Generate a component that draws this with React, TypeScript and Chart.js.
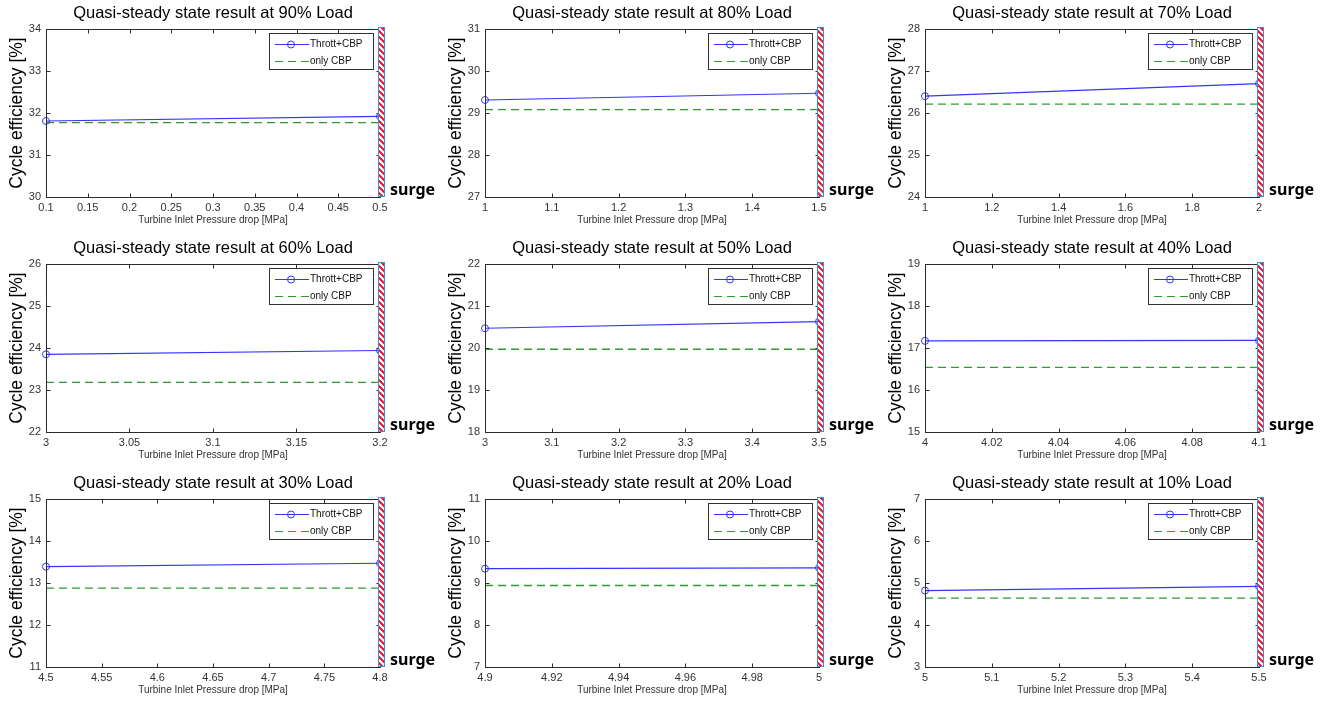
import React, { useEffect, useRef } from "react";
import { Chart, registerables } from "chart.js";

Chart.register(...registerables);

// ---------------- data ----------------
const loads = [90, 80, 70, 60, 50, 40, 30, 20, 10];
const xStart = [0.1, 1, 1, 3, 3, 4, 4.5, 4.9, 5];
const xEnd = [0.5, 1.5, 2, 3.2, 3.5, 4.1, 4.8, 5, 5.5];
const throttStart = [31.81, 29.31, 26.4, 23.85, 20.47, 17.17, 13.39, 9.34, 4.82];
const throttEnd = [31.92, 29.47, 26.7, 23.94, 20.63, 17.18, 13.47, 9.36, 4.92];
const onlyCBP = [31.77, 29.08, 26.21, 23.18, 19.97, 16.54, 12.88, 8.94, 4.64];
const yMin = [30, 27, 24, 22, 18, 15, 11, 7, 3];
const yMax = [34, 31, 28, 26, 22, 19, 15, 11, 7];
const xTicks = [
  [0.1, 0.15, 0.2, 0.25, 0.3, 0.35, 0.4, 0.45, 0.5],
  [1, 1.1, 1.2, 1.3, 1.4, 1.5],
  [1, 1.2, 1.4, 1.6, 1.8, 2],
  [3, 3.05, 3.1, 3.15, 3.2],
  [3, 3.1, 3.2, 3.3, 3.4, 3.5],
  [4, 4.02, 4.04, 4.06, 4.08, 4.1],
  [4.5, 4.55, 4.6, 4.65, 4.7, 4.75, 4.8],
  [4.9, 4.92, 4.94, 4.96, 4.98, 5],
  [5, 5.1, 5.2, 5.3, 5.4, 5.5],
];
const seriesLabels = ["Thrott+CBP", "only CBP"];
const xAxisLabel = "Turbine Inlet Pressure drop [MPa]";
const yAxisLabel = "Cycle efficiency [%]";
const surgeLabel = "surge";

// ---------------- styles ----------------
const FONT = '"Liberation Sans", Arial, sans-serif';
const BLUE = "#3434ff";
const GREEN = "#2f9a2f";
const AXIS = "#2b2b2b";
const TICK_TEXT = "#333333";

let hatchCache: CanvasPattern | null = null;
function getHatch(ctx: CanvasRenderingContext2D): CanvasPattern | null {
  if (hatchCache) return hatchCache;
  const c = document.createElement("canvas");
  c.width = 6;
  c.height = 6;
  const g = c.getContext("2d")!;
  g.fillStyle = "#ffffff";
  g.fillRect(0, 0, 6, 6);
  g.strokeStyle = "#e8122c";
  g.lineWidth = 2;
  g.beginPath();
  g.moveTo(-1, -1);
  g.lineTo(7, 7);
  g.moveTo(-1, 5);
  g.lineTo(1, 7);
  g.moveTo(5, -1);
  g.lineTo(7, 1);
  g.stroke();
  hatchCache = ctx.createPattern(c, "repeat");
  return hatchCache;
}

const decorPlugin = {
  id: "matlabDecor",
  afterDatasetsDraw(chart: any) {
    const { ctx, chartArea: a, scales } = chart;
    const xs = scales.x;
    const ys = scales.y;
    ctx.save();
    // tick marks, inward on all four sides
    ctx.strokeStyle = AXIS;
    ctx.lineWidth = 1;
    ctx.beginPath();
    const L = Math.round(a.left) + 0.5;
    const R = Math.round(a.right) + 0.5;
    const T = Math.round(a.top) + 0.5;
    const B = Math.round(a.bottom) + 0.5;
    xs.ticks.forEach((t: any) => {
      const px = Math.round(xs.getPixelForValue(t.value)) + 0.5;
      ctx.moveTo(px, B);
      ctx.lineTo(px, B - 4);
      ctx.moveTo(px, T);
      ctx.lineTo(px, T + 4);
    });
    ys.ticks.forEach((t: any) => {
      const py = Math.round(ys.getPixelForValue(t.value)) + 0.5;
      ctx.moveTo(L, py);
      ctx.lineTo(L + 4, py);
      ctx.moveTo(R, py);
      ctx.lineTo(R - 4, py);
    });
    ctx.stroke();
    ctx.strokeRect(L, T, R - L, B - T);

    // surge bar at the x maximum
    const sx = Math.round(xs.getPixelForValue(xs.max));
    const barL = sx - 2;
    const barW = 7;
    const barT = Math.round(a.top) - 2;
    const barB = Math.round(a.bottom);
    const pat = getHatch(ctx);
    if (pat) ctx.fillStyle = pat;
    ctx.fillRect(barL, barT, barW, barB - barT);
    ctx.strokeStyle = "#3a8fd8";
    ctx.lineWidth = 1;
    ctx.strokeRect(barL + 0.5, barT + 0.5, barW - 1, barB - barT - 1);

    // surge text
    ctx.fillStyle = "#000";
    ctx.font = 'bold 16px "Noto Sans", sans-serif';
    ctx.textBaseline = "alphabetic";
    ctx.textAlign = "left";
    ctx.fillText(surgeLabel, sx + 10, a.bottom - 2);

    // legend box
    ctx.font = `10px ${FONT}`;
    const ds = chart.data.datasets;
    let tw = 0;
    ds.forEach((d: any) => (tw = Math.max(tw, ctx.measureText(d.label).width)));
    const boxW = Math.round(41 + tw + 10);
    const boxH = 36;
    const boxR = Math.round(a.right) - 7;
    const boxL = boxR - boxW;
    const boxT = Math.round(a.top) + 4;
    ctx.fillStyle = "#fff";
    ctx.fillRect(boxL, boxT, boxW, boxH);
    ctx.strokeStyle = "#333";
    ctx.strokeRect(boxL + 0.5, boxT + 0.5, boxW, boxH);
    ds.forEach((d: any, k: number) => {
      const yy = boxT + 11 + k * 17 + 0.5;
      ctx.strokeStyle = d.borderColor;
      ctx.lineWidth = 1.2;
      ctx.setLineDash(d.borderDash || []);
      ctx.beginPath();
      ctx.moveTo(boxL + 6, yy);
      ctx.lineTo(boxL + 40, yy);
      ctx.stroke();
      ctx.setLineDash([]);
      if (d.pointRadius > 0) {
        ctx.beginPath();
        ctx.arc(boxL + 22, yy, d.pointRadius, 0, Math.PI * 2);
        ctx.lineWidth = 1;
        ctx.stroke();
      }
      ctx.fillStyle = "#111";
      ctx.textBaseline = "middle";
      ctx.fillText(d.label, boxL + 41, yy);
    });
    ctx.restore();
  },
};

function Panel({ idx }: { idx: number }) {
  const ref = useRef<HTMLCanvasElement>(null);
  useEffect(() => {
    const i = idx;
    const chart = new Chart(ref.current!, {
      type: "line",
      data: {
        datasets: [
          {
            label: seriesLabels[0],
            data: [
              { x: xStart[i], y: throttStart[i] },
              { x: xEnd[i], y: throttEnd[i] },
            ],
            borderColor: BLUE,
            borderWidth: 1.2,
            pointRadius: 3.5,
            pointStyle: "circle",
            pointBorderColor: BLUE,
            pointBackgroundColor: "rgba(0,0,0,0)",
            pointBorderWidth: 1,
            clip: false,
          } as any,
          {
            label: seriesLabels[1],
            data: [
              { x: xStart[i], y: onlyCBP[i] },
              { x: xEnd[i], y: onlyCBP[i] },
            ],
            borderColor: GREEN,
            borderDash: [8, 5],
            borderWidth: 1.3,
            pointRadius: 0,
          } as any,
        ],
      },
      options: {
        responsive: false,
        animation: false,
        events: [],
        layout: { padding: { left: 0, right: 60, top: 0, bottom: 0 } },
        plugins: {
          legend: { display: false },
          tooltip: { enabled: false },
          title: {
            display: true,
            text: `Quasi-steady state result at ${loads[i]}% Load`,
            fullSize: false,
            color: "#000",
            font: { family: FONT, size: 16.5, weight: "normal" },
            padding: { top: 4, bottom: 5.2 },
          },
        },
        scales: {
          x: {
            type: "linear",
            min: xStart[i],
            max: xEnd[i],
            grid: { display: false, drawTicks: false },
            border: { display: false },
            ticks: {
              autoSkip: false,
              maxRotation: 0,
              padding: 4,
              color: TICK_TEXT,
              font: { family: FONT, size: 11 },
              callback: (v: any) => String(v),
            },
            afterBuildTicks: (s: any) => {
              s.ticks = xTicks[i].map((v) => ({ value: v }));
            },
            afterFit: (s: any) => {
              s.height = 38;
            },
            title: {
              display: true,
              text: xAxisLabel,
              color: TICK_TEXT,
              font: { family: FONT, size: 10 },
              padding: { top: 0, bottom: 9 },
            },
          },
          y: {
            type: "linear",
            min: yMin[i],
            max: yMax[i],
            grid: { display: false, drawTicks: false },
            border: { display: false },
            ticks: {
              stepSize: 1,
              padding: 5,
              color: TICK_TEXT,
              font: { family: FONT, size: 11 },
            },
            afterFit: (s: any) => {
              s.width = 46;
            },
            title: {
              display: true,
              text: yAxisLabel,
              color: "#000",
              font: { family: FONT, size: 17.5 },
              padding: { top: 7, bottom: 0 },
            },
          },
        },
      } as any,
      plugins: [decorPlugin],
    });
    return () => chart.destroy();
  }, [idx]);
  const col = idx % 3;
  const row = Math.floor(idx / 3);
  const colLeft = [0, 439, 879];
  return (
    <canvas
      ref={ref}
      width={440}
      height={235}
      style={{ position: "absolute", left: colLeft[col], top: row * 235, width: 440, height: 235 }}
    />
  );
}

export default function App() {
  return (
    <div style={{ position: "absolute", left: 0, top: 0, width: 1323, height: 704, background: "#fff" }}>
      {loads.map((_, i) => (
        <Panel key={i} idx={i} />
      ))}
    </div>
  );
}
